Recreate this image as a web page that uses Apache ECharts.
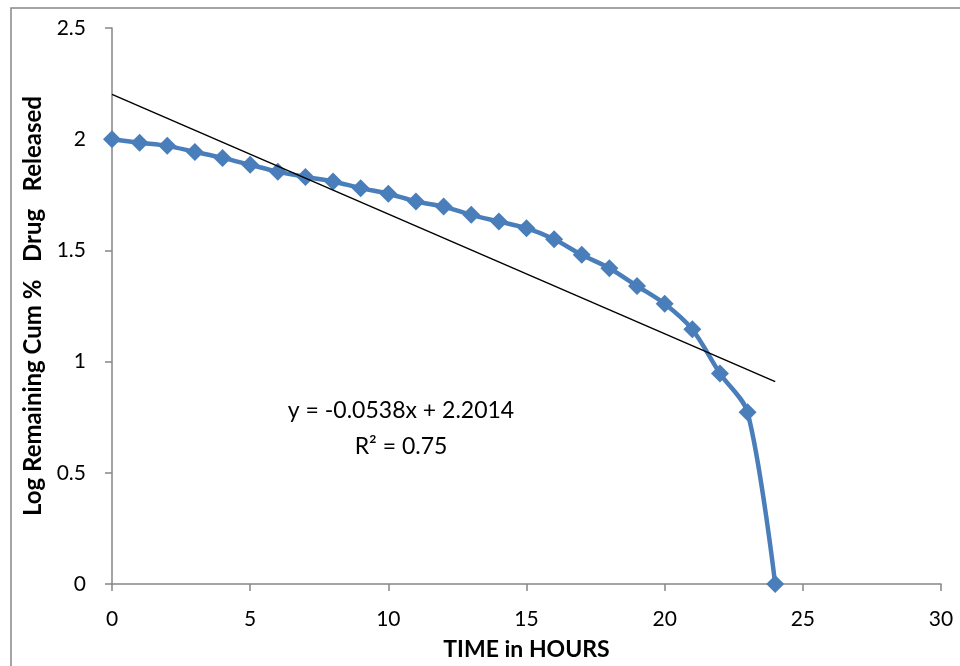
<!DOCTYPE html>
<html>
<head>
<meta charset="utf-8">
<script src="https://cdn.jsdelivr.net/npm/echarts@6/dist/echarts.min.js"></script>
<style>
  html, body { margin: 0; padding: 0; background: #fff; }
  #main { width: 960px; height: 666px; }
</style>
</head>
<body>
<div id="main"></div>
<script>
var hours = [0, 1, 2, 3, 4, 5, 6, 7, 8, 9, 10, 11, 12, 13, 14, 15, 16, 17, 18, 19, 20, 21, 22, 23, 24];
var logRemaining = [2.0, 1.984, 1.97, 1.943, 1.916, 1.885, 1.854, 1.83, 1.81, 1.78, 1.755, 1.72, 1.697,
  1.66, 1.63, 1.6, 1.55, 1.48, 1.42, 1.34, 1.26, 1.145, 0.947, 0.772, 0.0];
var slope = -0.0538;
var intercept = 2.2014;
var trendX = [0, 24];

var chartDom = document.getElementById("main");
var myChart = echarts.init(chartDom);
var option;

var font = "Lato, 'Open Sans', sans-serif";

option = {
  animation: false,
  grid: {
    left: 112,
    right: 19,
    top: 28,
    bottom: 81,
  },
  xAxis: {
    type: "value",
    min: 0,
    max: 30,
    interval: 5,
    name: "TIME in HOURS",
    nameLocation: "middle",
    nameGap: 54,
    nameTextStyle: { fontFamily: font, fontSize: 23, fontWeight: "bold", color: "#000" },
    axisLine: { lineStyle: { color: "#868686", width: 1.5 } },
    axisTick: { show: true, length: 7, lineStyle: { color: "#868686", width: 1.5 } },
    axisLabel: { fontFamily: font, fontSize: 21, color: "#000", margin: 25 },
    splitLine: { show: false },
  },
  yAxis: {
    type: "value",
    min: 0,
    max: 2.5,
    interval: 0.5,
    name: "Log Remaining Cum %   Drug   Released",
    nameLocation: "middle",
    nameGap: 67,
    nameTextStyle: { fontFamily: font, fontSize: 24, fontWeight: "bold", color: "#000" },
    axisLine: { show: true, lineStyle: { color: "#868686", width: 1.5 } },
    axisTick: { show: true, length: 7, lineStyle: { color: "#868686", width: 1.5 } },
    axisLabel: { fontFamily: font, fontSize: 21, color: "#000", margin: 26 },
    splitLine: { show: false },
  },
  series: [
    {
      name: "Log remaining",
      type: "line",
      smooth: 0.3,
      data: hours.map(function (h, i) { return [h, logRemaining[i]]; }),
      symbol: "diamond",
      symbolSize: 18,
      lineStyle: { color: "#4a7ebb", width: 4.5 },
      itemStyle: { color: "#4a7ebb" },
      z: 2,
    },
    {
      name: "Linear trend",
      type: "line",
      data: trendX.map(function (x) { return [x, intercept + slope * x]; }),
      symbol: "none",
      lineStyle: { color: "#000", width: 1.5 },
      z: 3,
    },
  ],
  graphic: [
    {
      type: "rect",
      shape: { x: 11, y: 8, width: 980, height: 700 },
      style: { fill: "none", stroke: "#868686", lineWidth: 1.5 },
      silent: true,
    },
    {
      type: "text",
      x: 401,
      y: 411,
      style: {
        text: "y = -0.0538x + 2.2014",
        fontFamily: font,
        fontSize: 23,
        fill: "#000",
        align: "center",
        verticalAlign: "middle",
      },
    },
    {
      type: "text",
      x: 401,
      y: 447,
      style: {
        text: "R\u00b2 = 0.75",
        fontFamily: font,
        fontSize: 23,
        fill: "#000",
        align: "center",
        verticalAlign: "middle",
      },
    },
  ],
};

option && myChart.setOption(option);
</script>
</body>
</html>
